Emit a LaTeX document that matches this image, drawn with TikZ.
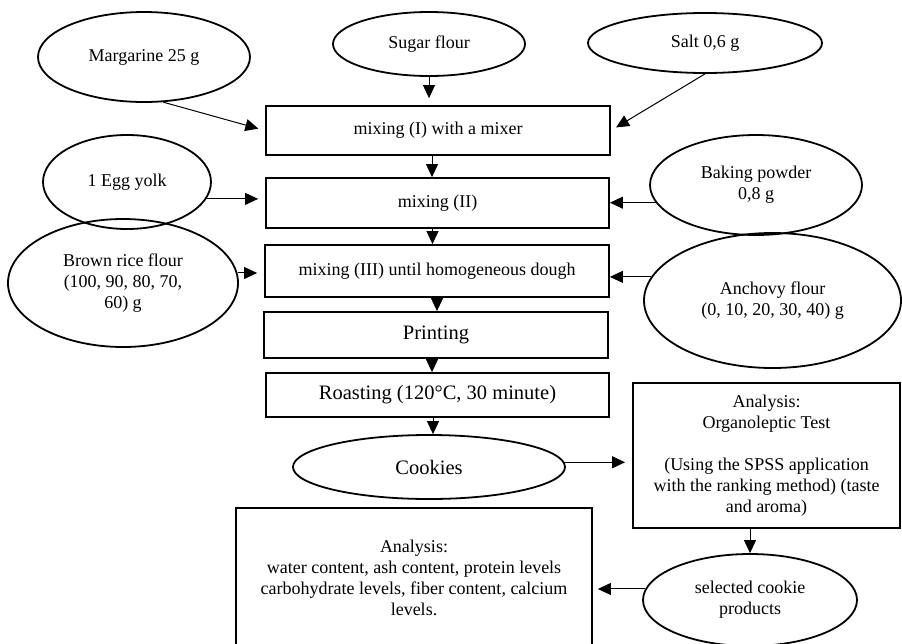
\documentclass[tikz,border=0pt]{standalone}
\usepackage{fontspec}
\setmainfont{Liberation Serif}
\usetikzlibrary{shapes.geometric,arrows.meta}

\begin{document}
\begin{tikzpicture}[x=1pt,y=-1pt,
    every node/.style={inner sep=0pt, align=center, font=\fontsize{18}{21}\selectfont},
    oval/.style={draw, ellipse, line width=1.8pt},
    stepbox/.style={draw, rectangle, line width=1.8pt},
    big/.style={font=\fontsize{20.5}{24}\selectfont},
    arr/.style={line width=1pt, -{Triangle[length=13pt,width=12pt]}},
    gap/.style={shorten >=7pt}]
    \useasboundingbox (0,0) rectangle (902,643);
    \clip (0,0) rectangle (902,643);
    % ingredients and mixing steps
    \node[oval, minimum width=212pt, minimum height=90pt] (marg) at (144,57) {Margarine 25 g};
    \node[oval, minimum width=192pt, minimum height=64pt] (sugar) at (429,44) {Sugar flour};
    \node[oval, minimum width=234pt, minimum height=60pt] (salt) at (705,43) {Salt 0,6 g};
    \node[stepbox, minimum width=344pt, minimum height=49pt] (mix1) at (438,130.5) {mixing (I) with a mixer};
    \node[oval, minimum width=168pt, minimum height=94pt] (egg) at (127,182) {1 Egg yolk};
    \node[stepbox, minimum width=343pt, minimum height=50pt] (mix2) at (437.5,203) {mixing (II)};
    \node[oval, minimum width=212pt, minimum height=100pt] (baking) at (756,185) {Baking powder\\0,8 g};
    \node[oval, minimum width=230pt, minimum height=128pt] (brown) at (123,283) {Brown rice flour\\(100, 90, 80, 70,\\60) g};
    \node[stepbox, minimum width=344pt, minimum height=52pt] (mix3) at (437,271) {mixing (III) until homogeneous dough};
    \node[oval, minimum width=257pt, minimum height=135pt] (anchovy) at (772.5,300.5) {Anchovy flour\\(0, 10, 20, 30, 40) g};
    % processing and analysis
    \node[stepbox, big, minimum width=344pt, minimum height=46pt] (print) at (436,335) {Printing};
    \node[stepbox, big, minimum width=343pt, minimum height=44pt] (roast) at (437.5,395) {Roasting (120°C, 30 minute)};
    \node[oval, big, minimum width=272pt, minimum height=64pt] (cookies) at (429,467) {Cookies};
    \node[stepbox, minimum width=267pt, minimum height=145pt] (organo) at (766.5,455.5) {Analysis:\\Organoleptic Test\\[21pt](Using the SPSS application\\with the ranking method) (taste\\and aroma)};
    \node[oval, minimum width=214pt, minimum height=92pt] (selected) at (750,600) {selected cookie\\products};
    \node[stepbox, minimum width=356pt, minimum height=140pt] (analysis) at (414,578) {Analysis:\\water content, ash content, protein levels\\carbohydrate levels, fiber content, calcium\\levels.};
    % arrows
    \draw[arr, gap] (marg.-67) -- (mix1.west);
    \draw[arr, gap] (sugar.south) -- (sugar.south |- mix1.north);
    \draw[arr, shorten >=6pt] (salt.south) -- (mix1.east);
    \draw[arr] ([xshift=-6pt]mix1.south) -- ([xshift=-6pt]mix1.south |- mix2.north);
    \draw[arr, gap] (egg.-12) -- (egg.-12 -| mix2.west);
    \draw[arr] (baking.190) -- (baking.190 -| mix2.east);
    \draw[arr] ([xshift=-5pt]mix2.south) -- ([xshift=-5pt]mix2.south |- mix3.north);
    \draw[arr, gap] (brown.5) -- (brown.5 -| mix3.west);
    \draw[arr] (anchovy.169) -- (anchovy.169 -| mix3.east);
    \draw[arr] (mix3.south) -- (mix3.south |- print.north);
    \draw[arr] ([xshift=-4pt]print.south) -- ([xshift=-4pt]print.south |- roast.north);
    \draw[arr] ([xshift=-4.5pt]roast.south) -- ([xshift=-4.5pt]roast.south |- cookies.north);
    \draw[arr, gap] (cookies.2) -- (cookies.2 -| organo.west);
    \draw[arr] (selected.north |- organo.south) -- (selected.north);
    \draw[arr, shorten >=5pt] (selected.174) -- (selected.174 -| analysis.east);
\end{tikzpicture}
\end{document}
